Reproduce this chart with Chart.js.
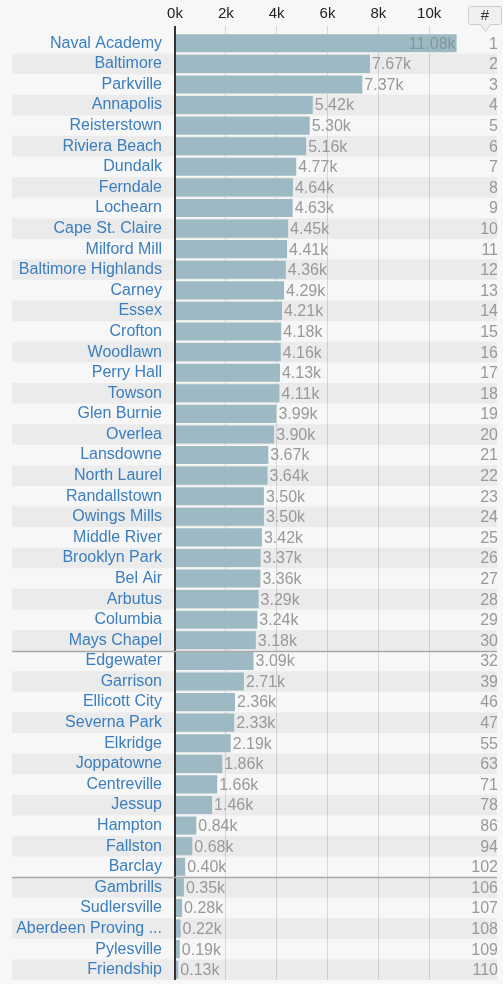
<!DOCTYPE html>
<html>
<head>
<meta charset="utf-8">
<script src="https://cdn.jsdelivr.net/npm/chart.js@4"></script>
<style>
  html, body { margin: 0; padding: 0; background: #f7f7f7; }
  #wrap { width: 503px; height: 984px; position: relative; }
</style>
</head>
<body>
<div id="wrap"><canvas id="chart"></canvas></div>
<script>
// places, in the order shown
const places = [
  'Naval Academy', 'Baltimore', 'Parkville', 'Annapolis', 'Reisterstown',
  'Riviera Beach', 'Dundalk', 'Ferndale', 'Lochearn', 'Cape St. Claire',
  'Milford Mill', 'Baltimore Highlands', 'Carney', 'Essex', 'Crofton',
  'Woodlawn', 'Perry Hall', 'Towson', 'Glen Burnie', 'Overlea',
  'Lansdowne', 'North Laurel', 'Randallstown', 'Owings Mills', 'Middle River',
  'Brooklyn Park', 'Bel Air', 'Arbutus', 'Columbia', 'Mays Chapel',
  'Edgewater', 'Garrison', 'Ellicott City', 'Severna Park', 'Elkridge',
  'Joppatowne', 'Centreville', 'Jessup', 'Hampton', 'Fallston',
  'Barclay', 'Gambrills', 'Sudlersville', 'Aberdeen Proving ...', 'Pylesville',
  'Friendship'
];

const values = [
  11080, 7670, 7370, 5420, 5300,
  5160, 4770, 4640, 4630, 4450,
  4410, 4360, 4290, 4210, 4180,
  4160, 4130, 4110, 3990, 3900,
  3670, 3640, 3500, 3500, 3420,
  3370, 3360, 3290, 3240, 3180,
  3090, 2710, 2360, 2330, 2190,
  1860, 1660, 1460, 840, 680,
  400, 350, 280, 220, 190,
  130
];

const ranks = [
  1, 2, 3, 4, 5, 6, 7, 8, 9, 10,
  11, 12, 13, 14, 15, 16, 17, 18, 19, 20,
  21, 22, 23, 24, 25, 26, 27, 28, 29, 30,
  32, 39, 46, 47, 55, 63, 71, 78, 86, 94,
  102, 106, 107, 108, 109, 110
];

// 区切り線を入れる行（この行の下）
const separatorsAfter = [29, 40];

const xTicks = [0, 2000, 4000, 6000, 8000, 10000];

const FONT = '"Liberation Sans", Arial, sans-serif';
const fmtK = v => (v / 1000).toFixed(2) + 'k';

const tablePlugin = {
  id: 'tablePlugin',
  beforeDraw(chart) {
    const ctx = chart.ctx;
    const y = chart.scales.y;
    const band = (y.getPixelForValue(1) - y.getPixelForValue(0));
    ctx.save();
    places.forEach((_, i) => {
      if (i % 2 === 1) {
        const c = y.getPixelForValue(i);
        ctx.fillStyle = '#ebebeb';
        ctx.fillRect(12, c - band / 2, 485, band);
      }
    });
    ctx.restore();
  },
  afterDatasetsDraw(chart) {
    const ctx = chart.ctx;
    const x = chart.scales.x;
    const y = chart.scales.y;
    const band = (y.getPixelForValue(1) - y.getPixelForValue(0));
    ctx.save();

    // separators
    ctx.strokeStyle = '#a8a8a8';
    ctx.lineWidth = 1.5;
    separatorsAfter.forEach(i => {
      const yy = Math.round(y.getPixelForValue(i) + band / 2) + 0.5;
      ctx.beginPath();
      ctx.moveTo(12, yy);
      ctx.lineTo(497, yy);
      ctx.stroke();
    });

    // value labels
    ctx.font = '16px ' + FONT;
    ctx.textBaseline = 'middle';
    values.forEach((v, i) => {
      const end = x.getPixelForValue(v);
      const yy = y.getPixelForValue(i) + 1;
      if (end + 50 > x.right) {
        ctx.textAlign = 'right';
        ctx.fillStyle = '#86959b';
        ctx.fillText(fmtK(v), end - 1, yy);
      } else {
        ctx.textAlign = 'left';
        ctx.fillStyle = '#999999';
        ctx.fillText(fmtK(v), end + 2, yy);
      }
    });

    // rank column
    ctx.textAlign = 'right';
    ctx.fillStyle = '#999999';
    ranks.forEach((r, i) => {
      ctx.fillText(String(r), 498, y.getPixelForValue(i) + 1);
    });

    // "#" header box
    ctx.fillStyle = '#f0f0f0';
    ctx.strokeStyle = '#cccccc';
    ctx.lineWidth = 1;
    ctx.beginPath();
    ctx.moveTo(470.5, 6.5);
    ctx.lineTo(499.5, 6.5);
    ctx.quadraticCurveTo(501.5, 6.5, 501.5, 8.5);
    ctx.lineTo(501.5, 22.5);
    ctx.quadraticCurveTo(501.5, 24.5, 499.5, 24.5);
    ctx.lineTo(490.5, 24.5);
    ctx.lineTo(485.5, 31.5);
    ctx.lineTo(480.5, 24.5);
    ctx.lineTo(470.5, 24.5);
    ctx.quadraticCurveTo(468.5, 24.5, 468.5, 22.5);
    ctx.lineTo(468.5, 8.5);
    ctx.quadraticCurveTo(468.5, 6.5, 470.5, 6.5);
    ctx.closePath();
    ctx.fill();
    ctx.stroke();
    ctx.fillStyle = '#333333';
    ctx.textAlign = 'center';
    ctx.font = '15px ' + FONT;
    ctx.fillText('#', 485, 16);

    ctx.restore();
  }
};

new Chart(document.getElementById('chart').getContext('2d'), {
  type: 'bar',
  data: {
    labels: places,
    datasets: [{
      data: values,
      backgroundColor: '#9dbac4',
      borderWidth: 0,
      barPercentage: 0.88,
      categoryPercentage: 1.0
    }]
  },
  options: {
    indexAxis: 'y',
    responsive: true,
    maintainAspectRatio: false,
    animation: false,
    layout: { padding: { top: 0, right: 23, bottom: 4, left: 0 } },
    plugins: {
      legend: { display: false },
      tooltip: { enabled: false }
    },
    scales: {
      x: {
        position: 'top',
        min: 0,
        max: 12000,
        afterBuildTicks: scale => {
          scale.ticks = xTicks.map(v => ({ value: v }));
        },
        afterFit: scale => {
          scale.height = 33;
          scale.paddingLeft = 0;
          scale.paddingRight = 0;
        },
        ticks: {
          padding: 3,
          color: '#222222',
          font: { family: FONT, size: 15 },
          callback: v => (v / 1000) + 'k'
        },
        grid: {
          tickLength: 7,
          color: ctx => ctx.tick && ctx.tick.value === 0 ? '#333333' : 'rgba(0,0,0,0.13)',
          lineWidth: ctx => ctx.tick && ctx.tick.value === 0 ? 2 : 1
        },
        border: { display: false }
      },
      y: {
        afterFit: scale => {
          scale.width = 175;
          scale.paddingTop = 0;
          scale.paddingBottom = 0;
        },
        ticks: {
          padding: 5,
          color: '#3a7ebf',
          font: { family: FONT, size: 16 },
          autoSkip: false
        },
        grid: { display: false },
        border: { display: false }
      }
    }
  },
  plugins: [tablePlugin]
});
</script>
</body>
</html>
